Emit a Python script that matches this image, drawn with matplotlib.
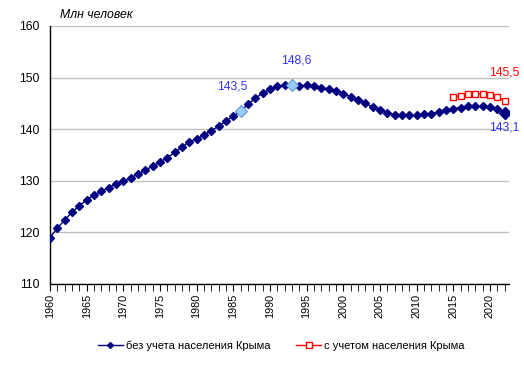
import matplotlib
matplotlib.use("Agg")
import matplotlib.pyplot as plt
from matplotlib.ticker import MultipleLocator
from matplotlib.lines import Line2D

plt.rcParams['font.family'] = ['Liberation Sans', 'DejaVu Sans']

years = list(range(1960, 2023))
pop_without = [119.0, 120.8, 122.4, 123.9, 125.2, 126.3, 127.2, 128.0, 128.7, 129.4,
               129.9, 130.6, 131.3, 132.1, 132.8, 133.6, 134.5, 135.5, 136.5, 137.6,
               138.1, 138.9, 139.7, 140.6, 141.6, 142.5, 143.5, 144.8, 146.0, 147.0,
               147.7, 148.3, 148.5, 148.6, 148.4, 148.5, 148.3, 148.0, 147.8, 147.5,
               146.9, 146.3, 145.6, 145.0, 144.3, 143.8, 143.2, 142.8, 142.75, 142.7,
               142.8, 142.9, 143.0, 143.3, 143.7, 144.0, 144.2, 144.4, 144.5, 144.4,
               144.3, 143.9, 143.1]
years_crimea = list(range(2015, 2023))
pop_with = [146.3, 146.5, 146.8, 146.9, 146.8, 146.7, 146.2, 145.5]
highlight_years = [1986, 1993]

W, H = 524, 373
fig = plt.figure(figsize=(W/100, H/100), dpi=100)
ax = fig.add_axes([50/W, 1-284/H, (509-50)/W, (284-26)/H])

navy = '#000080'
ax.plot(years, pop_without, color=navy, lw=1.0, marker='D', ms=4.3,
        mfc=navy, mec=navy, zorder=3)
hl_vals = [pop_without[years.index(y)] for y in highlight_years]
ax.plot(highlight_years, hl_vals, ls='none', marker='D', ms=5.8,
        mfc='#99ccff', mec='#6699cc', mew=0.8, zorder=4)
ax.plot(years[-1:], pop_without[-1:], ls='none', marker='D', ms=6,
        mfc=navy, mec=navy, zorder=4)
ax.plot(years_crimea, pop_with, color='#ff0000', lw=1.0, marker='s', ms=5,
        mfc='white', mec='#ff0000', mew=1.0, zorder=3)

ax.set_xlim(1960, 2022.6)
ax.set_ylim(110, 160)
ax.yaxis.set_major_locator(MultipleLocator(10))
ax.xaxis.set_major_locator(MultipleLocator(5))
ax.xaxis.set_minor_locator(MultipleLocator(1))
ax.grid(axis='y', color='#c0c0c0', lw=1.0)
ax.set_axisbelow(True)
for s in ['top', 'right']:
    ax.spines[s].set_visible(False)
for s in ['left', 'bottom']:
    ax.spines[s].set_color('black')
    ax.spines[s].set_linewidth(1.0)
ax.tick_params(axis='y', length=0, labelsize=8.7, pad=7.7)
ax.tick_params(axis='x', which='major', length=5, labelsize=7.8, labelrotation=90, pad=2, direction='out')
ax.tick_params(axis='x', which='minor', length=5, direction='out')

lbl_col = '#3333ff'
ax.annotate('143,5', (1986, 143.5), xytext=(-6, 17.5), textcoords='offset points',
            ha='center', va='center', color=lbl_col, fontsize=8.7)
ax.annotate('148,6', (1993, 148.6), xytext=(3.4, 17.8), textcoords='offset points',
            ha='center', va='center', color=lbl_col, fontsize=8.7)
ax.annotate('145,5', (2022, 145.5), xytext=(0, 20.7), textcoords='offset points',
            ha='center', va='center', color='#ff0000', fontsize=8.7)
ax.annotate('143,1', (2022, 143.1), xytext=(0, -10), textcoords='offset points',
            ha='center', va='center', color=lbl_col, fontsize=8.7)

fig.text(60/W, 1-14.5/H, 'Млн человек', fontsize=8.8, style='italic', ha='left', va='center')

handles = [Line2D([0], [0], color=navy, lw=1.0, marker='D', ms=3, mfc=navy, mec=navy),
           Line2D([0], [0], color='#ff0000', lw=1.0, marker='s', ms=4, mfc='white', mec='#ff0000')]
fig.legend(handles, ['без учета населения Крыма', 'с учетом населения Крыма'],
           loc='center', bbox_to_anchor=(0.537, 1-346/H), ncol=2, frameon=False,
           fontsize=8, handlelength=2.25, handletextpad=0.27, columnspacing=2.35,
           borderpad=0, borderaxespad=0)

fig.savefig('out.png', dpi=100)
